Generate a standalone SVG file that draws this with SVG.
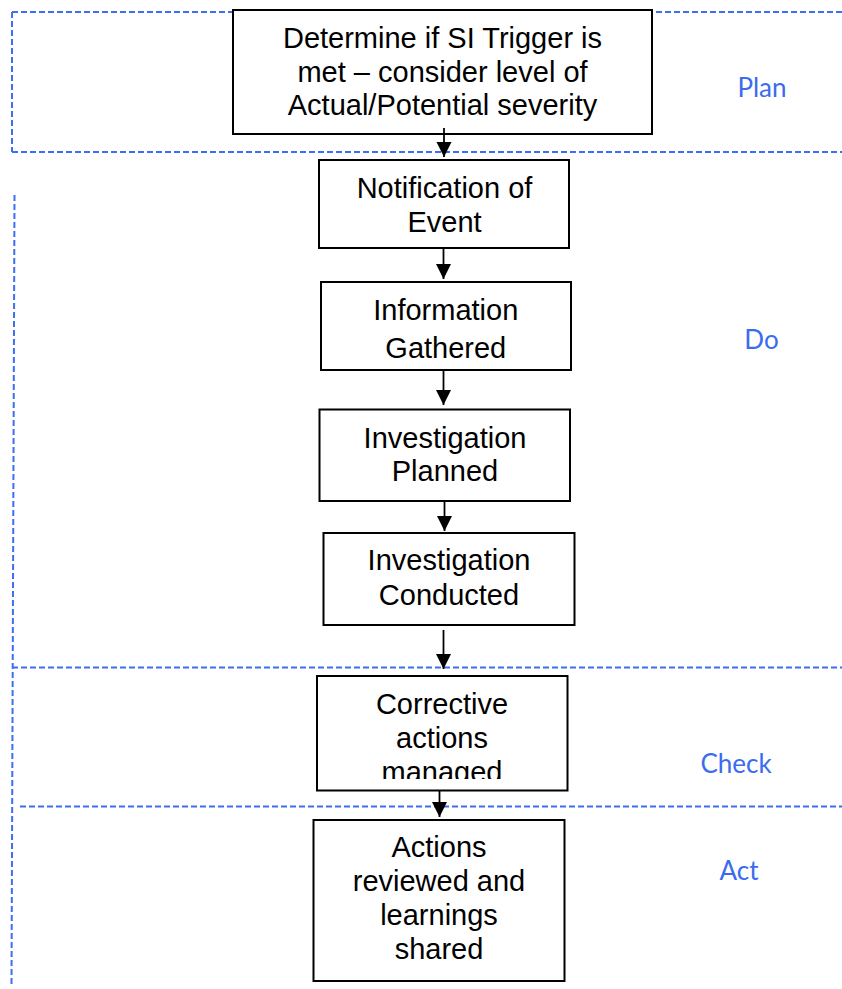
<svg xmlns="http://www.w3.org/2000/svg" width="842" height="989" viewBox="0 0 842 989">
  <style>
    .band { fill: none; stroke: #3d6ef4; stroke-width: 2; stroke-dasharray: 6 3; }
    .phase { font-family: Lato, "Open Sans", sans-serif; font-size: 26px; fill: #3a6cf0; text-anchor: middle; }
    .box { fill: #ffffff; stroke: #000000; stroke-width: 2; }
    .label { font-family: "Liberation Sans", Arial, sans-serif; font-size: 29px; fill: #000000; text-anchor: middle; }
    .link { fill: none; stroke: #000000; stroke-width: 1.8; marker-end: url(#head); }
  </style>
  <defs>
    <marker id="head" markerUnits="userSpaceOnUse" markerWidth="16" markerHeight="16" refX="15" refY="7.5" orient="auto">
      <path d="M0,0 L15,7.5 L0,15 Z" fill="#000000"/>
    </marker>
    <clipPath id="clip-corrective">
      <rect x="317" y="676" width="251" height="103"/>
    </clipPath>
  </defs>

  <rect width="842" height="989" fill="#ffffff"/>

  <!-- PDCA phase bands -->
  <g id="bands">
    <line class="band" x1="12" y1="12" x2="233" y2="12"/>
    <line class="band" x1="656" y1="12" x2="842" y2="12"/>
    <line class="band" x1="12" y1="12" x2="12" y2="152"/>
    <line class="band" x1="12" y1="152" x2="842" y2="152"/>
    <line class="band" x1="14.5" y1="195" x2="11.5" y2="985"/>
    <line class="band" x1="12" y1="667.5" x2="842" y2="667.5"/>
    <line class="band" x1="20" y1="806.5" x2="842" y2="806.5"/>
    <text class="phase" x="762" y="97">Plan</text>
    <text class="phase" x="761.5" y="349">Do</text>
    <text class="phase" x="736" y="772.5">Check</text>
    <text class="phase" x="739" y="880">Act</text>
  </g>

  <g id="n-trigger">
    <rect class="box" x="233" y="10" width="419" height="124"/>
    <text class="label" x="442.5" y="48">Determine if SI Trigger is</text>
    <text class="label" x="442.5" y="81.5">met – consider level of</text>
    <text class="label" x="442.5" y="115">Actual/Potential severity</text>
  </g>

  <g id="n-notification">
    <rect class="box" x="319" y="160" width="250" height="88"/>
    <text class="label" x="444.5" y="197.5">Notification of</text>
    <text class="label" x="444.5" y="231.5">Event</text>
  </g>

  <g id="n-information">
    <rect class="box" x="321" y="282" width="250" height="88"/>
    <text class="label" x="445.8" y="319.5">Information</text>
    <text class="label" x="445.8" y="357.5">Gathered</text>
  </g>

  <g id="n-planned">
    <rect class="box" x="319.5" y="409.5" width="250.5" height="91.5"/>
    <text class="label" x="445" y="447.5">Investigation</text>
    <text class="label" x="445" y="481">Planned</text>
  </g>

  <g id="n-conducted">
    <rect class="box" x="323.5" y="533" width="251" height="92"/>
    <text class="label" x="449" y="570">Investigation</text>
    <text class="label" x="449" y="604.5">Conducted</text>
  </g>

  <g id="n-corrective">
    <rect class="box" x="317" y="676" width="250.5" height="114.5"/>
    <g clip-path="url(#clip-corrective)">
      <text class="label" x="442" y="713.5">Corrective</text>
      <text class="label" x="442" y="747.5">actions</text>
      <text class="label" x="442" y="782">managed</text>
    </g>
  </g>

  <g id="n-reviewed">
    <rect class="box" x="313.5" y="820" width="251" height="161"/>
    <text class="label" x="439" y="857">Actions</text>
    <text class="label" x="439" y="891">reviewed and</text>
    <text class="label" x="439" y="924.5">learnings</text>
    <text class="label" x="439" y="958.5">shared</text>
  </g>

  <g id="connectors">
    <line class="link" x1="444" y1="128" x2="444" y2="157"/>
    <line class="link" x1="443.5" y1="248" x2="443.5" y2="279"/>
    <line class="link" x1="443.5" y1="370" x2="443.5" y2="405"/>
    <line class="link" x1="444.5" y1="501" x2="444.5" y2="531"/>
    <line class="link" x1="443.5" y1="630" x2="443.5" y2="669"/>
    <line class="link" x1="439.5" y1="790" x2="439.5" y2="817"/>
  </g>
</svg>
